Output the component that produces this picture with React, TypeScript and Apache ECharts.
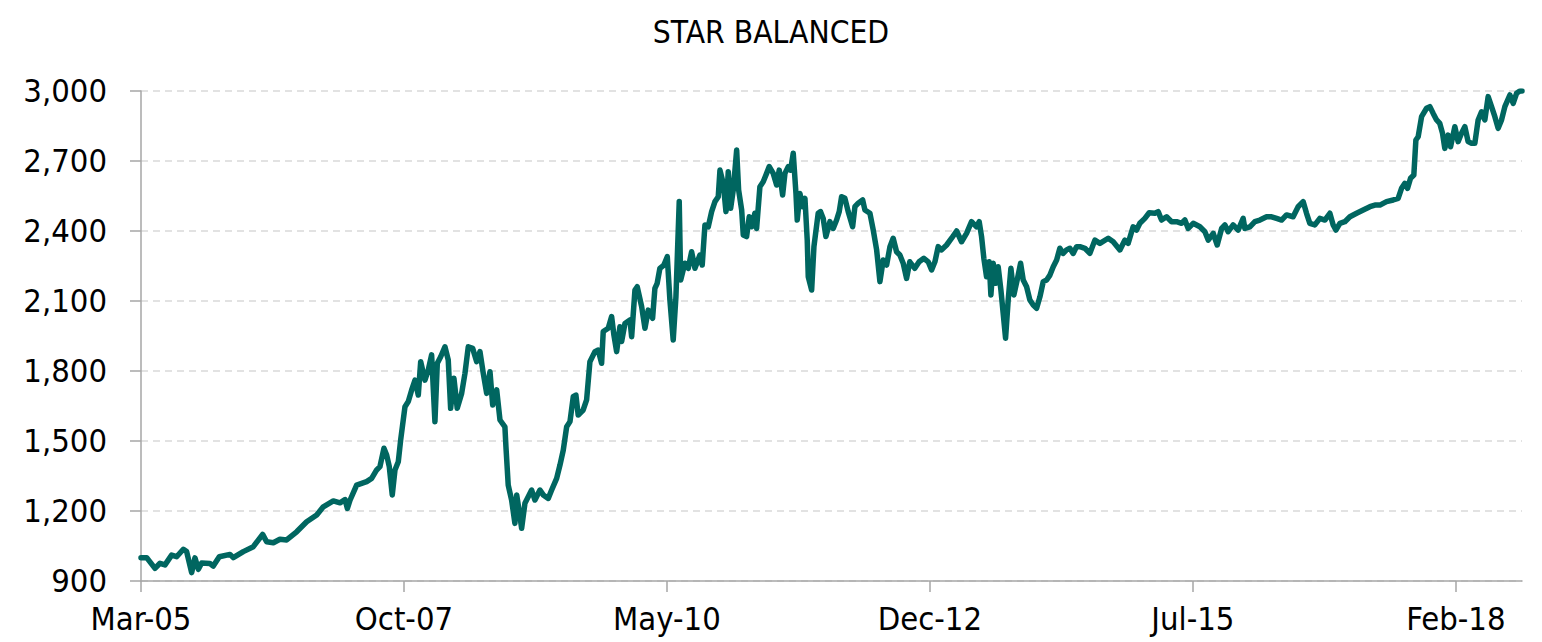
import React, { useEffect, useRef } from "react";
import * as echarts from "echarts";

// Months elapsed since Mar-05 (fractional) and fund value
const monthIdx: number[] = [
  0.0, 0.67, 1.65, 2.24, 2.83, 3.61, 4.2, 4.99, 5.38, 5.97, 6.36, 6.76, 7.15, 8.13, 8.52, 9.23,
  10.49, 10.88, 12.06, 13.24, 14.34, 14.81, 15.6, 16.38, 17.17, 18.35, 19.53, 20.71, 21.49, 22.67,
  23.46, 24.05, 24.33, 24.64, 25.42, 26.6, 27.19, 27.78, 28.17, 28.64, 28.96, 29.27, 29.62, 29.94,
  30.33, 30.61, 31.12, 31.51, 31.91, 32.3, 32.69, 32.97, 33.47, 33.86, 34.26, 34.65, 34.93, 35.33,
  35.83, 36.22, 36.5, 36.89, 37.28, 37.8, 38.19, 38.58, 39.1, 39.57, 39.96, 40.35, 40.75, 41.14,
  41.46, 41.93, 42.32, 42.9, 43.02, 43.29, 43.69, 44.08, 44.29, 44.68, 44.87, 45.26, 45.65, 46.05,
  46.44, 47.03, 47.42, 48.01, 48.41, 49.0, 49.39, 49.78, 50.18, 50.57, 50.96, 51.27, 51.54, 52.13,
  52.53, 52.92, 53.51, 53.9, 54.3, 54.49, 55.08, 55.48, 55.75, 56.07, 56.46, 56.66, 57.05, 57.64,
  57.84, 58.23, 58.5, 59.02, 59.41, 59.8, 60.31, 60.58, 60.85, 61.17, 61.64, 62.04, 62.35, 62.74,
  63.06, 63.45, 63.62, 64.12, 64.51, 64.91, 65.3, 65.89, 66.16, 66.48, 66.87, 67.27, 67.66, 68.05,
  68.25, 68.64, 68.96, 69.23, 69.51, 69.82, 70.22, 70.45, 70.81, 71.0, 71.39, 71.7, 71.98, 72.37,
  72.57, 72.96, 73.35, 73.75, 74.06, 74.53, 74.93, 75.24, 75.64, 75.91, 76.3, 76.58, 76.89, 77.21,
  77.36, 77.68, 78.0, 78.27, 78.54, 78.66, 79.06, 79.33, 79.83, 80.11, 80.42, 80.74, 81.21, 81.6,
  82.0, 82.31, 82.59, 82.98, 83.37, 83.89, 84.16, 84.55, 85.07, 85.34, 85.93, 86.32, 86.72, 87.11,
  87.5, 87.9, 88.29, 88.67, 89.07, 89.46, 89.85, 90.25, 90.63, 91.22, 91.73, 92.29, 92.8, 93.2,
  93.59, 93.98, 94.38, 94.97, 95.56, 96.15, 96.73, 97.32, 97.91, 98.5, 98.81, 99.09, 99.36, 99.68,
  99.99, 100.19, 100.46, 100.78, 101.05, 101.37, 101.64, 101.92, 102.23, 102.55, 102.9, 103.29,
  103.69, 104.0, 104.4, 104.79, 105.18, 105.58, 105.97, 106.36, 106.76, 107.15, 107.54, 107.94,
  108.32, 108.71, 109.11, 109.5, 109.89, 110.29, 110.68, 111.27, 111.86, 112.45, 113.04, 114.02,
  114.61, 115.4, 115.99, 116.37, 116.96, 117.36, 117.75, 118.34, 118.85, 119.52, 119.91, 120.31,
  120.9, 121.49, 122.08, 122.67, 123.06, 123.45, 124.04, 124.83, 125.42, 125.81, 126.4, 126.87,
  127.39, 127.78, 128.16, 128.75, 129.34, 129.93, 130.13, 130.72, 131.31, 131.9, 132.69, 133.28,
  133.87, 134.46, 135.04, 135.82, 136.41, 137.0, 137.4, 137.79, 138.38, 138.97, 139.56, 140.15,
  140.54, 140.86, 141.33, 141.92, 142.51, 143.3, 144.08, 144.87, 145.46, 146.05, 146.83, 147.62,
  148.2, 148.6, 148.99, 149.31, 149.66, 150.05, 150.29, 150.56, 150.96, 151.55, 151.94, 152.33,
  152.73, 153.11, 153.43, 153.7, 154.09, 154.38, 154.88, 155.27, 155.67, 156.06, 156.45, 156.85,
  157.24, 157.63, 158.03, 158.42, 158.81, 159.21, 159.6, 159.99, 160.39, 160.78, 161.37, 161.76,
  162.16, 162.55, 162.8,
];

const fundValues: number[] = [
  1000, 1000, 954, 976, 969, 1011, 1004, 1036, 1026, 936, 999, 950, 977, 975, 964, 1004,
  1014, 1000, 1026, 1047, 1100, 1068, 1064, 1079, 1076, 1111, 1154, 1183, 1218, 1243,
  1235, 1249, 1211, 1246, 1311, 1326, 1340, 1376, 1390, 1469, 1440, 1390, 1269, 1376,
  1411, 1504, 1647, 1669, 1719, 1761, 1697, 1840, 1761, 1804, 1869, 1583, 1833, 1861,
  1904, 1847, 1640, 1769, 1640, 1704, 1790, 1904, 1897, 1840, 1883, 1790, 1704, 1797,
  1654, 1719, 1590, 1561, 1476, 1311, 1247, 1147, 1269, 1176, 1126, 1233, 1261, 1290,
  1247, 1290, 1269, 1254, 1290, 1340, 1397, 1461, 1561, 1583, 1690, 1697, 1611, 1633,
  1676, 1840, 1883, 1890, 1833, 1969, 1983, 2033, 1954, 1883, 1990, 1926, 2004, 2019,
  1947, 2147, 2161, 2076, 1983, 2061, 2026, 2154, 2176, 2240, 2254, 2290, 2104, 1933,
  2118, 2526, 2190, 2262, 2240, 2311, 2240, 2297, 2254, 2426, 2418, 2483, 2526, 2547,
  2661, 2604, 2483, 2654, 2497, 2576, 2747, 2576, 2490, 2383, 2376, 2461, 2418, 2476,
  2411, 2590, 2611, 2647, 2676, 2647, 2597, 2661, 2554, 2647, 2676, 2661, 2733, 2561,
  2447, 2561, 2504, 2540, 2361, 2204, 2147, 2333, 2476, 2483, 2454, 2376, 2440, 2411,
  2447, 2483, 2547, 2540, 2483, 2418, 2504, 2519, 2533, 2490, 2476, 2404, 2319, 2183,
  2276, 2254, 2333, 2369, 2311, 2297, 2262, 2197, 2268, 2240, 2268, 2283, 2268, 2233,
  2268, 2333, 2319, 2340, 2369, 2400, 2354, 2390, 2440, 2418, 2440, 2376, 2283, 2204,
  2268, 2126, 2262, 2176, 2247, 2147, 2047, 1940, 2104, 2240, 2126, 2190,
  2262, 2190, 2161, 2104, 2083, 2069, 2118, 2183, 2190, 2211, 2247, 2276,
  2326, 2304, 2319, 2326, 2304, 2333, 2333, 2326, 2304, 2361, 2347, 2369,
  2354, 2319, 2361, 2347, 2418, 2404, 2433, 2454, 2478, 2476, 2483, 2447,
  2461, 2440, 2440, 2433, 2447, 2411, 2433, 2418, 2397, 2361, 2390, 2340,
  2411, 2426, 2397, 2426, 2404, 2454, 2411, 2418, 2440, 2447, 2461, 2461,
  2454, 2447, 2469, 2461, 2504, 2526, 2476, 2433, 2426, 2454, 2447, 2476,
  2426, 2404, 2433, 2440, 2461, 2476, 2490, 2504, 2511, 2511, 2526, 2533,
  2540, 2583, 2604, 2583, 2626, 2640, 2790, 2804, 2890, 2926, 2933, 2904,
  2876, 2861, 2819, 2754, 2811, 2761, 2847, 2783, 2819, 2847, 2783, 2776,
  2776, 2876, 2911, 2876, 2976, 2933, 2890, 2840, 2876, 2933, 2983, 2947,
  2990, 3000, 3000,
];

const xTickLabels: string[] = ["Mar-05", "Oct-07", "May-10", "Dec-12", "Jul-15", "Feb-18"];
const xTickStep = 31; // months between labelled ticks
const yTicks: number[] = [900, 1200, 1500, 1800, 2100, 2400, 2700, 3000];

const FONT = "'DejaVu Sans Condensed', 'DejaVu Sans', sans-serif";

export default function App() {
  const ref = useRef<HTMLDivElement>(null);
  useEffect(() => {
    if (!ref.current) return;
    document.body.style.margin = "0";
    const chart = echarts.init(ref.current, null, { renderer: "svg" });
    const xTickValues = xTickLabels.map((_, i) => i * xTickStep);
    const data = monthIdx.map((m, i) => [m, fundValues[i]]);
    chart.setOption({
      animation: false,
      backgroundColor: "#ffffff",
      title: {
        text: "STAR BALANCED",
        left: "center",
        top: 11,
        textStyle: { fontFamily: FONT, fontSize: 31.5, fontWeight: "normal", color: "#000" },
      },
      grid: { left: 141, right: 20, top: 91, bottom: 61, containLabel: false },
      xAxis: {
        type: "value",
        min: 0,
        max: monthIdx[monthIdx.length - 1],
        interval: xTickStep,
        axisLine: { show: true, lineStyle: { color: "#a6a6a6", width: 1.5 } },
        axisTick: {
          show: true,
          length: 11,
          customValues: xTickValues,
          lineStyle: { color: "#a6a6a6", width: 1.5 },
        },
        axisLabel: {
          customValues: xTickValues,
          margin: 21,
          fontFamily: FONT,
          fontSize: 32.5,
          color: "#000",
          formatter: (v: number) => {
            const i = Math.round(v / xTickStep);
            return Math.abs(v - i * xTickStep) < 1e-6 ? xTickLabels[i] ?? "" : "";
          },
        },
        splitLine: { show: false },
      },
      yAxis: {
        type: "value",
        min: yTicks[0],
        max: yTicks[yTicks.length - 1],
        interval: yTicks[1] - yTicks[0],
        axisLine: { show: true, lineStyle: { color: "#a6a6a6", width: 1.5 } },
        axisTick: { show: true, length: 11, lineStyle: { color: "#a6a6a6", width: 1.5 } },
        axisLabel: {
          margin: 34,
          fontFamily: FONT,
          fontSize: 32.5,
          color: "#000",
          formatter: (v: number) => v.toLocaleString("en-US"),
        },
        splitLine: {
          show: true,
          lineStyle: { color: "#d9d9d9", width: 1.5, type: [7, 5] },
        },
      },
      series: [
        {
          type: "line",
          data,
          showSymbol: false,
          symbol: "none",
          lineStyle: { color: "#006660", width: 5.5, join: "round", cap: "round" },
          clip: true,
        },
      ],
    });
    return () => chart.dispose();
  }, []);
  return <div ref={ref} style={{ width: 1542, height: 642 }} />;
}
